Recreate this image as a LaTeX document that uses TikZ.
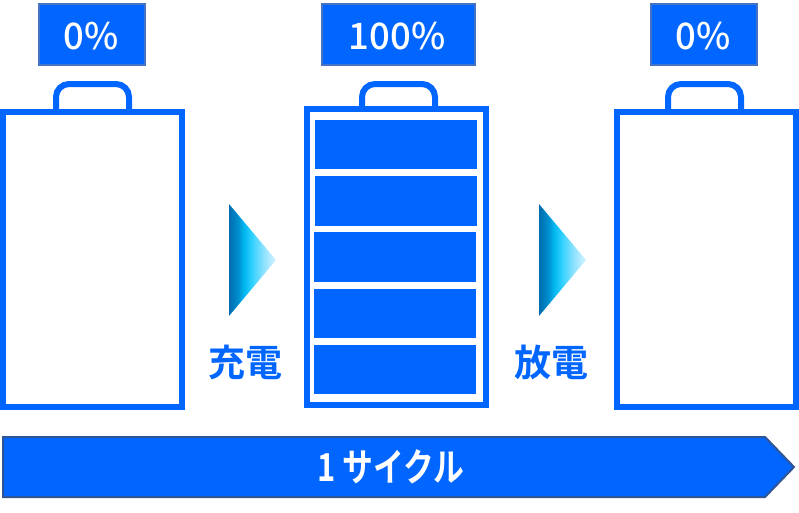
\documentclass[tikz,border=0pt]{standalone}
\usepackage{fontspec}
\setmainfont{Open Sans}
\newfontfamily\tagfont{Noto Sans CJK JP Medium}
\newfontfamily\cjkb[BoldFont={Noto Sans CJK JP Bold}]{Noto Sans CJK JP}
\newfontfamily\cjkc[FakeStretch=0.8]{Noto Sans CJK JP Bold}
\definecolor{mainblue}{HTML}{0066FF}
\definecolor{tagborder}{HTML}{4472C4}
\definecolor{barborder}{HTML}{2F5597}
\definecolor{gA}{HTML}{006CAE}
\definecolor{gB}{HTML}{0090D0}
\definecolor{gC}{HTML}{00B8F0}
\definecolor{gD}{HTML}{30D0FF}
\definecolor{gE}{HTML}{90E2FF}
\definecolor{gF}{HTML}{D8F3FF}
\pgfdeclarehorizontalshading{arrowshade}{100bp}{
  color(0bp)=(gA);
  color(25bp)=(gA);
  color(35bp)=(gB);
  color(41bp)=(gC);
  color(49bp)=(gD);
  color(62bp)=(gE);
  color(75bp)=(gF);
  color(100bp)=(gF)}
\tikzset{
  x=1pt,y=-1pt,
  tagbox/.style={draw=tagborder,line width=2pt,fill=mainblue,minimum height=61pt,inner sep=0pt,anchor=center},
  taglabel/.style={text=white,font=\tagfont\fontsize{36.5}{36.5}\selectfont,inner sep=0pt},
  casing/.style={draw=mainblue,line width=6pt,fill=white,miter limit=10},
  handle/.style={draw=mainblue,line width=6pt,rounded corners=13pt},
  cell/.style={fill=mainblue,draw=none},
  verb/.style={text=mainblue,font=\cjkb\bfseries\fontsize{37}{37}\selectfont,inner sep=0pt},
  arrowtri/.style={shading=arrowshade,draw=none},
  cyclebar/.style={draw=barborder,line width=2pt,fill=mainblue}
}
\begin{document}
\begin{tikzpicture}
\useasboundingbox (0,0) rectangle (799,512);
% tags
\node[tagbox,minimum width=106pt] (tagA) at (92,34.5) {};
\node[taglabel] (tagAt) at (91.5,36) {0\%};
\node[tagbox,minimum width=153pt] (tagB) at (398.5,34.5) {};
\node[taglabel] (tagBt) at (397,36) {100\%};
\node[tagbox,minimum width=106pt] (tagC) at (704,34.5) {};
\node[taglabel] (tagCt) at (703.5,36) {0\%};
% left battery
\draw[handle] (56,112) -- (56,84) -- (129,84) -- (129,112);
\draw[casing] (3,112) rectangle (182,407);
% middle battery
\draw[handle] (362,109) -- (362,84) -- (435,84) -- (435,109);
\draw[casing] (307,109) rectangle (486,405);
\fill[cell] (315,120) rectangle (477,169);
\fill[cell] (315,176) rectangle (477,226);
\fill[cell] (314,232) rectangle (476,282);
\fill[cell] (314,289) rectangle (476,338);
\fill[cell] (314,345) rectangle (476,394);
% right battery
\draw[handle] (668,112) -- (668,84) -- (741,84) -- (741,112);
\draw[casing] (617,112) rectangle (796,407);
% arrows
\shade[arrowtri] (229,204) -- (276,260) -- (229,316) -- cycle;
\shade[arrowtri] (539,204) -- (586,260) -- (539,316) -- cycle;
\node[verb] (charge) at (245.5,362) {充電};
\node[verb] (discharge) at (551.5,362) {放電};
% cycle bar
\draw[cyclebar] (3,437) -- (765,437) -- (794,467) -- (765,497) -- (3,497) -- cycle;
\node[text=white,font=\cjkc\fontsize{38.5}{38.5}\selectfont,inner sep=0pt] (cycle) at (390.5,467) {1 サイクル};
\end{tikzpicture}
\end{document}
